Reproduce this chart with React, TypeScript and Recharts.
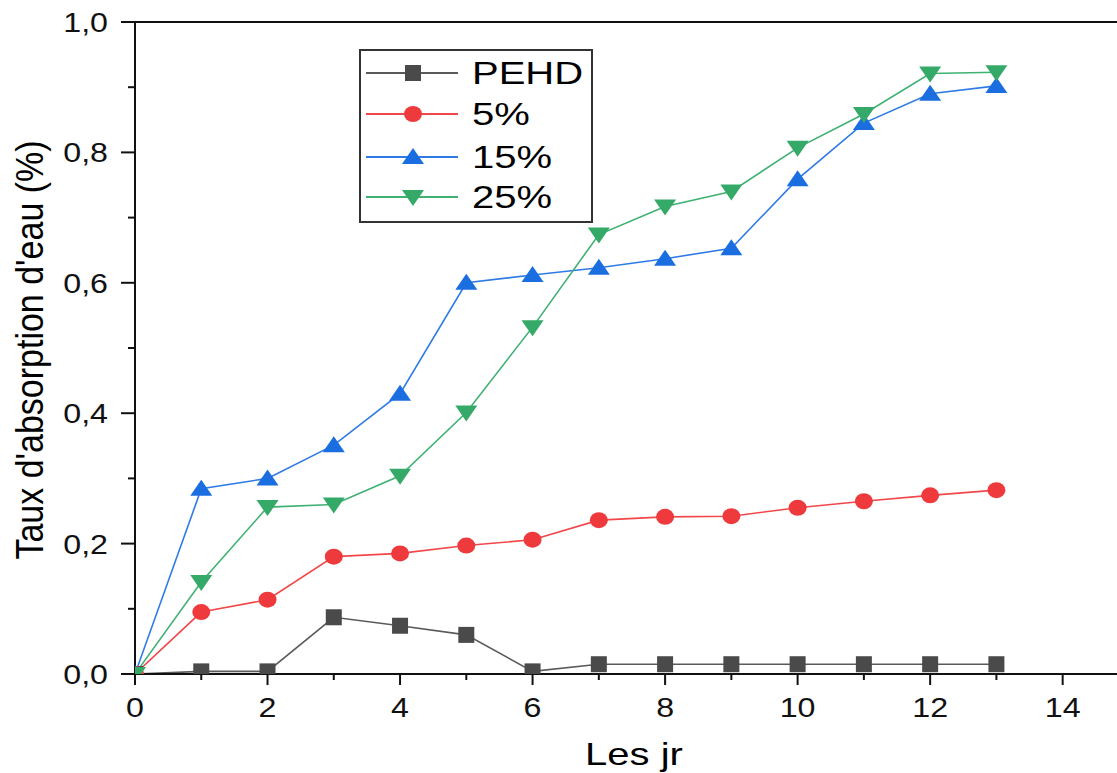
import React from 'react';
import { LineChart, Line, XAxis, YAxis, ReferenceLine, Legend } from 'recharts';

const days = [0, 1, 2, 3, 4, 5, 6, 7, 8, 9, 10, 11, 12, 13];
const pehd = [0, 0.004, 0.004, 0.087, 0.074, 0.06, 0.004, 0.015, 0.015, 0.015, 0.015, 0.015, 0.015, 0.015];
const p5 = [0, 0.095, 0.114, 0.18, 0.185, 0.197, 0.206, 0.236, 0.241, 0.242, 0.255, 0.265, 0.274, 0.282];
const p15 = [0, 0.284, 0.3, 0.351, 0.43, 0.6, 0.612, 0.623, 0.637, 0.653, 0.759, 0.845, 0.89, 0.902];
const p25 = [0, 0.141, 0.256, 0.26, 0.304, 0.401, 0.532, 0.674, 0.717, 0.74, 0.807, 0.859, 0.921, 0.923];

const seriesNames = ['PEHD', '5%', '15%', '25%'];
const seriesKeys = ['pehd', 'p5', 'p15', 'p25'];
const xTicks = [0, 1, 2, 3, 4, 5, 6, 7, 8, 9, 10, 11, 12, 13, 14];
const yTicks = [0, 0.1, 0.2, 0.3, 0.4, 0.5, 0.6, 0.7, 0.8, 0.9, 1.0];

const data = days.map((d, i) => ({ day: d, pehd: pehd[i], p5: p5[i], p15: p15[i], p25: p25[i] }));

const FONT = '"Liberation Sans", Arial, sans-serif';
const lineColors = ['#5a5a5a', '#f2474a', '#2f7be6', '#3fb172'];
const markColors = ['#4a4a4a', '#ee3a3c', '#1a6ee0', '#35aa68'];
const shapes = ['square', 'circle', 'up', 'down'];

function Marker({ shape, cx, cy, color }: { shape: string; cx: number; cy: number; color: string }) {
  if (cx == null || cy == null) return null;
  if (shape === 'square') return <rect x={cx - 8} y={cy - 8} width={16} height={16} fill={color} />;
  if (shape === 'circle') return <ellipse cx={cx} cy={cy} rx={9} ry={8} fill={color} />;
  if (shape === 'up')
    return <polygon points={`${cx},${cy - 9} ${cx + 11},${cy + 7} ${cx - 11},${cy + 7}`} fill={color} />;
  return <polygon points={`${cx - 11},${cy - 7} ${cx + 11},${cy - 7} ${cx},${cy + 9}`} fill={color} />;
}

const makeDot = (i: number) => (props: any) => (
  <Marker key={`${i}-${props.index}`} shape={shapes[i]} cx={props.cx} cy={props.cy} color={markColors[i]} />
);

const XTick = (props: any) => {
  const { x, y, payload } = props;
  const v = payload.value;
  const major = v % 2 === 0;
  return (
    <g>
      <line x1={x} x2={x} y1={y} y2={y + (major ? 11 : 6)} stroke="#111" strokeWidth={2} />
      {major && (
        <text transform={`translate(${x},${y + 43}) scale(1.15,1)`} textAnchor="middle" fontSize={28} fontFamily={FONT} fill="#111">
          {v}
        </text>
      )}
    </g>
  );
};

const YTick = (props: any) => {
  const { x, y, payload } = props;
  const v = payload.value;
  const idx = Math.round(v * 10);
  const major = idx % 2 === 0;
  return (
    <g>
      <line x1={x - (major ? 14 : 7)} x2={x} y1={y} y2={y} stroke="#111" strokeWidth={2} />
      {major && (
        <text transform={`translate(${x - 27},${y + 10}) scale(1.15,1)`} textAnchor="end" fontSize={28} fontFamily={FONT} fill="#111">
          {v.toFixed(1).replace('.', ',')}
        </text>
      )}
    </g>
  );
};

const XLabel = (props: any) => {
  const vb = props.viewBox;
  return (
    <text transform={`translate(${vb.x + vb.width / 2 + 8},${vb.y + 91}) scale(1.29,1)`} textAnchor="middle" fontSize={31} fontFamily={FONT} fill="#000">
      Les jr
    </text>
  );
};

const YLabel = (props: any) => {
  const vb = props.viewBox;
  return (
    <text transform={`translate(${vb.x + 43},${vb.y + vb.height / 2 + 2}) scale(1.15,1) rotate(-90)`} textAnchor="middle" fontSize={34} fontFamily={FONT} fill="#000">
      Taux d'absorption d'eau (%)
    </text>
  );
};

const LegendBox = () => {
  const rowY = [25, 66, 109, 149];
  return (
    <svg width={240} height={180} style={{ display: 'block' }}>
      <rect x={2} y={2} width={232} height={172} fill="#fff" stroke="#333" strokeWidth={2} />
      {seriesNames.map((n, i) => (
        <g key={n}>
          <line x1={8} x2={100} y1={rowY[i]} y2={rowY[i]} stroke={lineColors[i]} strokeWidth={2} />
          <Marker shape={shapes[i]} cx={55} cy={rowY[i]} color={markColors[i]} />
          <text transform={`translate(114,${rowY[i] + 11}) scale(1.27,1)`} fontSize={31.5} fontFamily={FONT} fill="#000">
            {n}
          </text>
        </g>
      ))}
    </svg>
  );
};

export default function App() {
  return (
    <div style={{ position: 'absolute', left: 0, top: 0, width: 1117, height: 773, background: '#fff' }}>
      <LineChart width={1117} height={773} data={data} margin={{ top: 22, right: 0, left: 0, bottom: 0 }}>
        <XAxis
          dataKey="day"
          type="number"
          domain={[0, 14.82]}
          allowDataOverflow
          ticks={xTicks}
          interval={0}
          tickSize={0}
          tickMargin={0}
          tickLine={false}
          tick={<XTick />}
          height={99}
          axisLine={{ stroke: '#111', strokeWidth: 2 }}
          label={<XLabel />}
        />
        <YAxis
          type="number"
          domain={[0, 1]}
          allowDataOverflow
          ticks={yTicks}
          interval={0}
          tickSize={0}
          tickMargin={0}
          tickLine={false}
          tick={<YTick />}
          width={135}
          axisLine={{ stroke: '#111', strokeWidth: 2 }}
          label={<YLabel />}
        />
        <ReferenceLine y={1} stroke="#111" strokeWidth={2} />
        {seriesKeys.map((k, i) => (
          <Line
            key={k}
            dataKey={k}
            name={seriesNames[i]}
            type="linear"
            stroke={lineColors[i]}
            strokeWidth={1.6}
            dot={makeDot(i)}
            activeDot={false}
            isAnimationActive={false}
          />
        ))}
        <Legend
          layout="horizontal"
          verticalAlign="middle"
          align="center"
          content={<LegendBox />}
          wrapperStyle={{ left: 358, top: 48, width: 240, height: 180 }}
        />
      </LineChart>
    </div>
  );
}
